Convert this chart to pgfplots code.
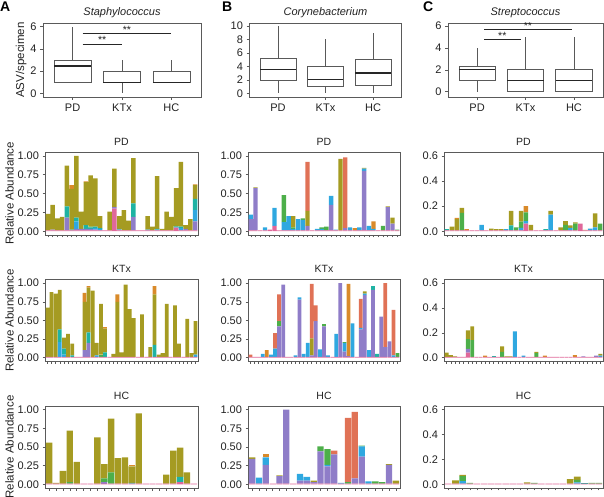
\documentclass[border=0pt]{standalone}
\usepackage{fontspec}
\setmainfont{Liberation Sans}
\usepackage{pgfplots}
\usepackage{pgfplotstable}
\usepgfplotslibrary{statistics}
\pgfplotsset{compat=1.18}

\definecolor{cpk}{HTML}{E0689A}
\definecolor{cpu}{HTML}{8F7DC8}
\definecolor{cbl}{HTML}{2FA8E0}
\definecolor{cte}{HTML}{1FB3A3}
\definecolor{cgr}{HTML}{4DAF4A}
\definecolor{col}{HTML}{A59B22}
\definecolor{crd}{HTML}{E07256}
\definecolor{cor}{HTML}{D98A2A}
\definecolor{frm}{HTML}{5A5A5A}
\definecolor{txt}{HTML}{222222}

% ---------------- Staphylococcus ----------------
\pgfplotstableread{
pk pu bl te gr ol rd or
0.01 0 0 0 0 0.22 0 0
0.01 0.01 0 0 0 0.33 0 0
0.01 0 0 0 0 0.16 0 0
0.01 0 0 0 0 0.18 0 0
0.01 0.17 0 0.15 0 0.54 0 0
0.01 0 0 0.01 0 0.54 0 0.05
0.01 0.02 0.10 0.05 0 0.82 0 0
0.01 0.02 0 0 0 0.23 0 0
0.01 0.02 0 0.05 0 0.57 0 0.01
0.01 0.02 0 0.02 0.01 0.68 0 0
0.01 0.01 0.02 0.02 0 0.64 0 0
0.01 0 0.02 0.01 0 0.16 0 0
0.01 0 0 0 0 0 0 0
0.01 0 0 0 0 0.25 0 0
0.30 0.02 0 0 0 0.51 0 0
0.01 0.01 0 0.01 0 0.17 0 0
0.01 0 0 0 0 0.27 0 0
0.01 0 0 0 0 0.13 0 0
0.01 0.18 0 0.18 0 0.60 0 0
0.01 0 0 0 0 0 0 0
0.01 0 0 0 0 0 0 0
0.01 0 0.01 0 0 0.18 0 0
0.01 0 0 0 0 0.05 0 0
0.01 0 0.01 0.01 0 0.70 0 0
0.01 0 0 0 0 0.02 0 0
0.01 0 0 0 0 0.25 0 0
0.01 0 0 0 0 0.18 0 0
0.04 0.01 0 0.01 0.01 0.50 0 0
0.01 0 0.03 0.02 0 0.86 0 0
0.01 0.02 0 0 0 0.05 0 0
0.01 0 0 0 0 0.15 0 0
0.01 0.12 0.15 0.15 0 0.18 0 0.01
}\aPD
\pgfplotstableread{
pk pu bl te gr ol rd or
0.01 0 0 0 0 0.66 0 0
0.01 0 0 0 0 0.87 0 0
0.01 0 0 0 0 0.85 0 0
0.01 0 0.20 0.17 0 0.53 0 0
0.01 0 0.03 0.08 0 0.15 0 0
0.01 0 0 0 0 0.31 0 0
0.01 0 0 0.02 0 0.16 0 0
0.01 0 0 0 0 0 0 0
0.01 0 0 0 0 0 0 0
0.01 0.09 0 0 0 0.65 0 0.12
0.01 0.19 0 0.14 0 0.60 0 0.02
0.01 0 0 0 0 0.89 0 0
0.01 0 0.02 0 0 0.17 0 0
0.01 0 0 0 0.03 0.68 0 0
0.01 0 0 0.06 0 0.32 0 0.02
0.01 0 0 0 0 0 0 0
0.01 0 0 0 0 0.04 0 0
0.01 0 0 0 0 0.74 0 0.10
0.01 0 0 0 0 0.06 0 0
0.01 0 0 0 0 0.97 0 0
0.01 0 0 0 0 0.64 0 0
0.01 0 0 0 0 0.52 0 0
0.01 0 0 0 0 0 0 0
0.01 0 0 0 0 0.57 0 0
0.01 0 0 0 0 0 0 0
0.01 0 0 0 0 0.13 0 0
0.01 0 0 0.16 0 0.68 0 0.11
0.01 0 0 0 0 0.03 0 0
0.01 0 0 0 0 0.05 0 0
0.01 0 0 0 0 0.71 0 0
0.01 0 0 0 0 0 0 0
0.01 0 0 0 0 0.69 0 0
0.01 0 0 0 0 0.18 0 0
0.01 0 0 0 0 0 0 0
0.01 0 0 0 0 0.51 0 0
0.01 0 0 0 0 0.05 0 0
0.01 0 0.03 0 0 0.45 0 0
}\aKTx
\pgfplotstableread{
pk pu bl te gr ol rd or
0.01 0 0 0 0 0.55 0 0
0.01 0 0 0 0 0.01 0 0
0.01 0 0 0 0 0.17 0 0
0.01 0 0 0 0.02 0.69 0 0
0.01 0 0 0 0 0.29 0 0
0.01 0 0 0 0 0 0 0
0.01 0 0 0 0 0 0 0
0.01 0 0 0 0 0.62 0 0
0.01 0.02 0 0 0.05 0.19 0 0
0.01 0 0 0 0.15 0.72 0 0
0.01 0 0 0 0 0.34 0 0
0.01 0 0 0 0 0.35 0 0
0.01 0 0 0.01 0 0.22 0 0.02
0.01 0 0 0 0 0.94 0 0
0.01 0 0 0 0 0 0 0
0.01 0 0 0 0 0 0 0
0.01 0 0 0 0 0 0 0
0.01 0 0 0 0 0.12 0 0
0.01 0 0 0 0 0.44 0 0
0.03 0 0 0.07 0 0.39 0 0
0.01 0 0 0 0 0.15 0 0
0.01 0 0 0 0 0 0 0
}\aHC
% ---------------- Corynebacterium ----------------
\pgfplotstableread{
pk pu bl te gr ol rd or
0.01 0.15 0.06 0 0 0 0 0
0.01 0.56 0 0 0 0.01 0 0
0.01 0 0 0 0 0 0 0
0.01 0 0.04 0 0 0 0 0
0.02 0 0 0 0 0 0 0
0.07 0 0.24 0 0 0 0 0
0.01 0 0 0 0 0 0 0
0.01 0 0.11 0 0.36 0 0 0
0.01 0 0.19 0 0 0 0 0
0.01 0 0.02 0 0.02 0.15 0 0
0.01 0 0.15 0 0 0 0 0
0.01 0 0.14 0 0.02 0 0 0
0.01 0.06 0 0 0 0.20 0.65 0
0.01 0 0 0 0 0 0 0
0.01 0 0.02 0 0 0 0 0
0.01 0 0.02 0 0.02 0 0 0
0.01 0 0 0 0.05 0 0 0
0.01 0.34 0.12 0 0 0 0 0
0.01 0 0.01 0 0 0 0 0
0.01 0 0 0 0 0.95 0 0
0.01 0.03 0 0 0 0 0.94 0
0.01 0 0.04 0 0 0 0 0
0.01 0 0 0 0 0 0 0.03
0.01 0 0.04 0 0 0 0 0
0.01 0.79 0.03 0 0 0.01 0 0
0.01 0 0.06 0 0 0 0 0
0.01 0 0.02 0 0 0 0 0.10
0.01 0 0 0 0 0 0 0
0.01 0 0 0 0.06 0 0 0
0.01 0.31 0 0 0 0.01 0 0
0.01 0.09 0 0 0 0.08 0 0
0.01 0 0 0 0.01 0 0 0
}\bPD
\pgfplotstableread{
pk pu bl te gr ol rd or
0.01 0 0 0 0 0 0.03 0
0.01 0 0 0 0 0 0 0
0.01 0 0 0 0 0 0 0
0.01 0 0.04 0 0 0 0 0
0.01 0 0 0 0 0 0 0.09
0.01 0 0.03 0 0 0 0 0
0.01 0 0.11 0 0 0 0.21 0
0.01 0.41 0 0 0.07 0 0.36 0
0.01 0.97 0 0 0 0 0 0
0.01 0 0 0 0 0 0 0
0.01 0 0 0 0 0 0 0
0.01 0 0.02 0 0 0 0 0
0.01 0.77 0.03 0 0 0 0 0
0.01 0 0.04 0 0 0 0 0
0.01 0 0.19 0 0 0 0 0
0.01 0.02 0 0 0 0.23 0.73 0
0.01 0.48 0 0 0 0 0.21 0
0.01 0 0.10 0 0 0 0 0
0.01 0.41 0 0 0.03 0 0 0
0.01 0 0.02 0 0 0 0 0
0.01 0 0 0 0 0 0 0
0.01 0 0.31 0 0 0 0 0
0.01 0.99 0 0 0 0 0 0
0.01 0.07 0.12 0 0.01 0 0 0
0.01 0.01 0 0 0 0 0 0.97
0.01 0 0.45 0 0 0 0 0
0.01 0 0 0 0 0 0 0
0.01 0.37 0.02 0 0 0 0.39 0
0.01 0.83 0.02 0 0 0.03 0 0
0.01 0 0.09 0 0 0 0 0
0.01 0.90 0 0.05 0 0 0 0
0.01 0 0 0.04 0 0 0 0
0.01 0.54 0 0 0 0 0 0
0.01 0.13 0 0 0 0 0.86 0
0.01 0.21 0 0 0 0 0 0
0.01 0 0.02 0 0 0 0.61 0
0.01 0 0 0 0.05 0 0 0
}\bKTx
\pgfplotstableread{
pk pu bl te gr ol rd or
0.01 0.33 0 0 0 0.02 0 0
0.01 0 0.08 0 0 0 0 0
0.01 0.25 0.10 0 0 0 0 0.05
0.01 0 0 0 0 0 0 0
0.01 0.10 0 0 0 0.01 0 0
0.01 0.99 0 0 0 0 0 0
0.01 0 0 0 0 0 0 0
0.01 0.04 0.09 0 0 0 0 0
0.01 0.04 0.05 0 0 0 0 0
0.01 0.02 0 0 0 0.02 0 0
0.01 0.43 0 0 0.07 0 0 0
0.01 0.23 0.02 0 0.21 0 0 0
0.01 0.39 0 0 0 0 0.05 0
0.01 0 0.01 0 0 0 0 0
0.01 0 0 0 0.02 0 0.86 0
0.01 0.07 0 0 0 0 0.89 0
0.01 0.36 0.14 0 0.01 0 0 0
0.01 0 0.03 0 0 0 0 0
0.01 0 0 0 0.03 0 0 0
0.01 0 0 0 0.02 0 0 0
0.01 0.25 0 0 0 0.01 0 0
0.01 0 0 0 0 0.04 0 0
}\bHC
% ---------------- Streptococcus ----------------
\pgfplotstableread{
pk pu bl te gr ol rd or
0.006 0 0 0.01 0 0 0 0
0.006 0 0 0 0 0.03 0 0
0.006 0 0 0 0 0.09 0 0.01
0.006 0 0 0 0.14 0.04 0 0
0.006 0 0 0 0 0 0 0.01
0.006 0 0 0 0 0 0 0
0.006 0 0 0 0 0 0 0
0.006 0 0.045 0 0 0 0 0
0.006 0 0 0 0 0 0 0
0.006 0 0 0 0 0.015 0 0
0.006 0 0 0 0 0.01 0 0
0.006 0 0 0 0 0.01 0 0
0.006 0 0.01 0 0 0 0 0
0.006 0 0 0.04 0 0.115 0 0
0.006 0 0 0 0.025 0 0 0
0.006 0 0.02 0 0.05 0.085 0 0
0.06 0 0.02 0 0.07 0 0 0.05
0.006 0 0 0 0 0.045 0 0
0.006 0 0 0 0 0 0 0
0.006 0 0 0 0 0 0 0
0.006 0 0 0.01 0 0 0 0
0.006 0 0.125 0 0 0.03 0 0
0.006 0 0 0 0 0 0 0
0.006 0 0 0 0 0.025 0 0
0.006 0 0 0 0.045 0.03 0 0
0.006 0 0.02 0 0 0.02 0 0
0.006 0 0 0 0.055 0.01 0 0
0.06 0 0 0 0 0 0 0
0.006 0 0 0 0 0.005 0 0
0.006 0 0.015 0 0 0 0 0
0.006 0 0.025 0 0 0.11 0 0
0.006 0 0 0 0.055 0 0 0
}\cPD
\pgfplotstableread{
pk pu bl te gr ol rd or
0.006 0 0 0 0 0.035 0 0
0.006 0 0 0 0 0.015 0 0
0.006 0 0 0 0 0.005 0 0
0.006 0 0 0 0 0 0 0
0.006 0 0 0 0 0 0 0
0.04 0.03 0 0 0.08 0.07 0 0
0.006 0 0 0 0.135 0.11 0 0
0.006 0 0 0 0 0 0 0
0.006 0 0 0 0 0 0 0
0.006 0 0 0 0 0 0 0.01
0.006 0 0 0 0 0 0 0
0.006 0 0 0.01 0 0 0 0
0.006 0 0 0 0 0 0 0
0.006 0 0 0 0.04 0.045 0 0
0.006 0 0 0 0 0.005 0 0
0.006 0 0 0 0 0.005 0 0
0.006 0 0.205 0 0 0 0 0
0.006 0 0 0 0 0 0 0
0.006 0 0.01 0 0 0 0 0
0.006 0 0 0 0 0 0 0
0.006 0 0 0 0 0 0 0
0.006 0 0 0 0.03 0.01 0 0
0.006 0 0 0 0 0 0 0
0.006 0 0 0 0 0 0 0.01
0.006 0 0 0 0 0 0 0
0.006 0 0 0 0 0 0 0
0.006 0 0 0 0 0 0 0
0.006 0 0 0 0 0 0 0
0.006 0 0 0 0 0 0 0
0.006 0 0 0 0 0 0 0
0.006 0 0 0 0 0 0 0.015
0.006 0 0 0 0 0 0 0
0.006 0.005 0 0 0 0 0 0
0.006 0 0 0 0 0 0 0
0.006 0 0 0 0 0 0 0
0.006 0.01 0 0 0 0 0 0
0.006 0 0.01 0 0 0.015 0 0
}\cKTx
\pgfplotstableread{
pk pu bl te gr ol rd or
0.006 0 0 0 0 0 0 0
0.006 0 0 0 0 0.025 0 0
0.006 0 0.02 0 0.04 0.01 0 0
0.006 0 0 0 0.005 0 0 0
0.006 0 0 0 0 0 0 0
0.006 0 0 0 0 0 0 0
0.006 0 0 0 0 0 0 0
0.006 0 0 0 0 0 0 0
0.006 0 0 0 0 0 0 0
0.006 0 0 0 0 0 0 0
0.006 0 0 0 0 0 0 0
0.006 0 0 0 0 0.01 0 0
0.006 0 0 0 0.005 0 0 0
0.006 0 0 0 0 0 0 0
0.006 0 0 0 0 0 0 0
0.006 0 0 0 0 0 0 0
0.006 0 0 0 0 0 0 0
0.006 0 0 0 0 0.035 0 0
0.006 0 0.01 0 0.02 0.025 0 0
0.006 0 0 0.005 0 0 0 0
0.006 0 0 0 0.005 0 0 0
0.006 0 0 0 0.005 0 0 0
}\cHC

\newcommand\stackbars[1]{%
\addplot[fill=cpk,draw=none] table[x expr=\coordindex+1,y=pk]{#1};
\addplot[fill=cpu,draw=none] table[x expr=\coordindex+1,y=pu]{#1};
\addplot[fill=cbl,draw=none] table[x expr=\coordindex+1,y=bl]{#1};
\addplot[fill=cte,draw=none] table[x expr=\coordindex+1,y=te]{#1};
\addplot[fill=cgr,draw=none] table[x expr=\coordindex+1,y=gr]{#1};
\addplot[fill=col,draw=none] table[x expr=\coordindex+1,y=ol]{#1};
\addplot[fill=crd,draw=none] table[x expr=\coordindex+1,y=rd]{#1};
\addplot[fill=cor,draw=none] table[x expr=\coordindex+1,y=or]{#1};
}

\pgfplotsset{
  every axis/.append style={font=\fontsize{11}{12}\selectfont, text=txt},
  every tick label/.append style={font=\fontsize{11}{12}\selectfont, text=txt},
  common/.style={scale only axis, anchor=south west,
    axis line style={frm, line width=0.6pt}, tick style={frm, line width=0.5pt},
    tick align=outside, major tick length=3pt, xtick pos=left, ytick pos=left,
    /pgf/number format/assume math mode=true,
    title style={font=\fontsize{10.5}{12}\selectfont, yshift=-3pt},
    ylabel style={font=\fontsize{11.5}{13}\selectfont, yshift=-3pt}},
  boxax/.style={common, height=74pt, xmin=0.4, xmax=3.6,
    xtick={1,2,3}, xticklabels={PD,KTx,HC},
    xticklabel style={font=\fontsize{11}{12}\selectfont},
    title style={font=\fontsize{11}{12}\selectfont\itshape, yshift=-1pt},
    boxplot/draw direction=y, boxplot/box extend=0.75, boxplot/whisker extend=0,
    boxplot/every median/.style={line width=1.3pt, black!85},
    boxplot/every box/.style={draw=black!65, line width=0.6pt, fill=white},
    boxplot/every whisker/.style={draw=black!65, line width=0.6pt}},
  barax/.style={common, ybar stacked, bar width=0.92, xmin=0.4,
    xtick=data, xticklabels={}, major tick length=2.5pt},
  onescale/.style={ymin=-0.05, ymax=1.05, ytick={0,0.25,0.5,0.75,1},
    yticklabel style={/pgf/number format/.cd, fixed, fixed zerofill, precision=2}},
  smallscale/.style={ymin=-0.03, ymax=0.63, ytick={0,0.2,0.4,0.6},
    yticklabel style={/pgf/number format/.cd, fixed, fixed zerofill, precision=1}},
}

\begin{document}
\begin{tikzpicture}
\useasboundingbox (0,0) rectangle (604pt,497pt);

\node[font=\bfseries\fontsize{14}{14}\selectfont, anchor=north west, inner sep=0pt] at (0pt,495pt) {A};
\node[font=\bfseries\fontsize{14}{14}\selectfont, anchor=north west, inner sep=0pt] at (222pt,495pt) {B};
\node[font=\bfseries\fontsize{14}{14}\selectfont, anchor=north west, inner sep=0pt] at (423pt,495pt) {C};

% ---------- Box plots ----------
\begin{axis}[boxax, at={(43pt,400pt)}, width=158pt, ymin=-0.33, ymax=6.33,
  ytick={0,2,4,6}, ylabel={ASV/specimen}, title={Staphylococcus}]
\addplot[boxplot prepared={lower whisker=1, lower quartile=1, median=2.45, upper quartile=3, upper whisker=6, draw position=1}] coordinates {};
\addplot[boxplot prepared={lower whisker=0, lower quartile=1, median=1, upper quartile=2, upper whisker=3, draw position=2}] coordinates {};
\addplot[boxplot prepared={lower whisker=1, lower quartile=1, median=1, upper quartile=2, upper whisker=3, draw position=3}] coordinates {};
\addplot[black!85, line width=0.7pt] coordinates {(1.2,4.45) (2.0,4.45)};
\addplot[black!85, line width=0.7pt] coordinates {(1.2,5.4) (3.0,5.4)};
\node[anchor=base, inner sep=0pt, font=\fontsize{10.5}{10}\selectfont] at (axis cs:1.6,4.45) {**};
\node[anchor=base, inner sep=0pt, font=\fontsize{10.5}{10}\selectfont] at (axis cs:2.1,5.4) {**};
\end{axis}

\begin{axis}[boxax, at={(249.5pt,400pt)}, width=152pt, ymin=-0.55, ymax=10.45,
  ytick={0,2,4,6,8,10}, title={Corynebacterium}]
\addplot[boxplot prepared={lower whisker=0, lower quartile=2, median=3.5, upper quartile=5.2, upper whisker=10, draw position=1}] coordinates {};
\addplot[boxplot prepared={lower whisker=0, lower quartile=1, median=2, upper quartile=4, upper whisker=8, draw position=2}] coordinates {};
\addplot[boxplot prepared={lower whisker=0, lower quartile=1.2, median=3, upper quartile=5, upper whisker=9, draw position=3}] coordinates {};
\end{axis}

\begin{axis}[boxax, at={(448pt,400pt)}, width=155pt, ymin=-0.48, ymax=6.27,
  ytick={0,2,4,6}, title={Streptococcus}]
\addplot[boxplot prepared={lower whisker=0, lower quartile=1, median=2, upper quartile=2.3, upper whisker=4, draw position=1}] coordinates {};
\addplot[boxplot prepared={lower whisker=0, lower quartile=0, median=1, upper quartile=2.05, upper whisker=5, draw position=2}] coordinates {};
\addplot[boxplot prepared={lower whisker=0, lower quartile=0, median=1, upper quartile=2.05, upper whisker=5, draw position=3}] coordinates {};
\addplot[black!85, line width=0.7pt] coordinates {(1.15,4.8) (1.9,4.8)};
\addplot[black!85, line width=0.7pt] coordinates {(1.15,5.7) (2.95,5.7)};
\node[anchor=base, inner sep=0pt, font=\fontsize{10.5}{10}\selectfont] at (axis cs:1.52,4.8) {**};
\node[anchor=base, inner sep=0pt, font=\fontsize{10.5}{10}\selectfont] at (axis cs:2.05,5.7) {**};
\end{axis}

% ---------- Row PD ----------
\begin{axis}[barax, onescale, at={(45pt,262pt)}, width=153pt, height=83pt, xmax=32.6,
  title={PD}, ylabel={Relative Abundance}]
\stackbars{\aPD}
\end{axis}
\begin{axis}[barax, onescale, at={(248pt,262pt)}, width=152pt, height=83pt, xmax=32.6,
  title={PD}]
\stackbars{\bPD}
\end{axis}
\begin{axis}[barax, smallscale, at={(444pt,262pt)}, width=159pt, height=83pt, xmax=32.6,
  title={PD}]
\stackbars{\cPD}
\end{axis}

% ---------- Row KTx ----------
\begin{axis}[barax, onescale, at={(45pt,135.6pt)}, width=153pt, height=82pt, xmax=37.6,
  title={KTx}, ylabel={Relative Abundance}]
\stackbars{\aKTx}
\end{axis}
\begin{axis}[barax, onescale, at={(248pt,135.6pt)}, width=152pt, height=82pt, xmax=37.6,
  title={KTx}]
\stackbars{\bKTx}
\end{axis}
\begin{axis}[barax, smallscale, at={(444pt,135.6pt)}, width=159pt, height=82pt, xmax=37.6,
  title={KTx}]
\stackbars{\cKTx}
\end{axis}

% ---------- Row HC ----------
\begin{axis}[barax, onescale, at={(45pt,9pt)}, width=153pt, height=82pt, xmax=22.6,
  title={HC}, ylabel={Relative Abundance}]
\stackbars{\aHC}
\end{axis}
\begin{axis}[barax, onescale, at={(248pt,9pt)}, width=152pt, height=82pt, xmax=22.6,
  title={HC}]
\stackbars{\bHC}
\end{axis}
\begin{axis}[barax, smallscale, at={(444pt,9pt)}, width=159pt, height=82pt, xmax=22.6,
  title={HC}]
\stackbars{\cHC}
\end{axis}
\end{tikzpicture}
\end{document}
